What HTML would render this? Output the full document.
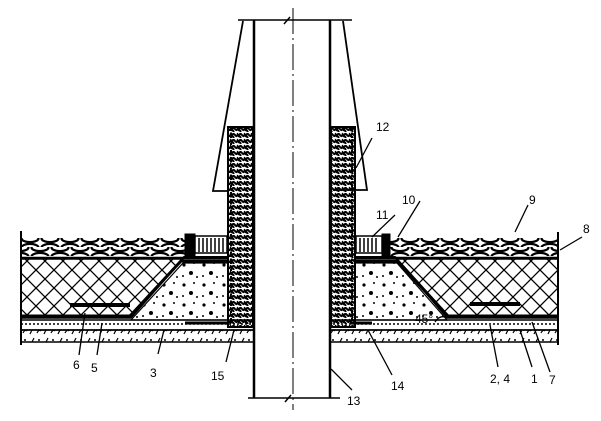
<!DOCTYPE html>
<html><head><meta charset="utf-8"><style>html,body{margin:0;padding:0;background:#fff}svg{display:block}</style></head>
<body>
<svg width="601" height="421" viewBox="0 0 601 421" xmlns="http://www.w3.org/2000/svg" font-family="Liberation Sans, sans-serif" font-size="12" fill="none" stroke="#000">
<defs>
<pattern id="x" width="18" height="18" patternUnits="userSpaceOnUse">
<path d="M0 0L18 18M18 0L0 18" stroke="#000" stroke-width="1.3"/>
</pattern>
<pattern id="g" width="20" height="9" patternUnits="userSpaceOnUse">
<ellipse cx="10" cy="4.5" rx="8.5" ry="3.6" stroke="#000" stroke-width="2.2" fill="#fff"/>
</pattern>
<pattern id="g2" width="20" height="9" patternUnits="userSpaceOnUse" x="10">
<ellipse cx="10" cy="4.5" rx="8.5" ry="3.6" stroke="#000" stroke-width="2.2" fill="#fff"/>
</pattern>
<pattern id="d" width="20" height="20" patternUnits="userSpaceOnUse">
<circle cx="4" cy="5" r="1.6" fill="#000" stroke="none"/><circle cx="14" cy="3" r="1" fill="#000" stroke="none"/><circle cx="11" cy="13" r="2" fill="#000" stroke="none"/><circle cx="3" cy="16" r="1" fill="#000" stroke="none"/><circle cx="17" cy="17" r="1" fill="#000" stroke="none"/>
</pattern>
<pattern id="w" width="7" height="6" patternUnits="userSpaceOnUse">
<path d="M0 5Q2 0 4 3T7 1M0 2L3 6" stroke="#000" stroke-width="2"/>
</pattern>
<pattern id="b" width="14" height="12" patternUnits="userSpaceOnUse">
<path d="M2 10L6 2M9 9q2-4 4-2" stroke="#000" stroke-width="1.2"/><circle cx="11" cy="4" r="1" fill="#000" stroke="none"/>
</pattern>
</defs>
<!-- base layers -->
<rect x="21" y="330" width="537" height="12" fill="url(#b)" stroke-width="1.5"/>
<rect x="21" y="320" width="537" height="10" fill="none" stroke-width="1.5"/>
<path d="M21 324H558" stroke-dasharray="2 2" stroke-width="1.5"/>
<rect x="255" y="315" width="74" height="32" fill="#fff" stroke="none"/>
<!-- insulation -->
<path d="M21 259H183L131 318H21Z M397 259H558V318H447Z" fill="url(#x)" stroke-width="1.5"/>
<!-- concrete fillets -->
<path d="M183 263H228V320H131Z" fill="url(#d)" stroke-width="1.2"/>
<path d="M397 263H355V320H447Z" fill="url(#d)" stroke-width="1.2"/>
<!-- membranes -->
<path d="M21 316H130L181 261H228" stroke-width="3"/>
<path d="M558 316H448L397 261H355" stroke-width="3"/>
<path d="M136 310L184 257H228M443 310L395 257H355" stroke-width="2"/>
<path d="M70 305H130M470 304H520" stroke-width="4"/>
<!-- gravel -->
<rect x="21" y="238" width="165" height="9" fill="url(#g)" stroke="none"/>
<rect x="21" y="247" width="165" height="9" fill="url(#g2)" stroke="none"/>
<rect x="388" y="238" width="170" height="9" fill="url(#g)" stroke="none"/>
<rect x="388" y="247" width="170" height="9" fill="url(#g2)" stroke="none"/>
<path d="M21 258H228M355 258H558" stroke-width="2.5"/>
<!-- clamps -->
<rect x="195" y="236" width="32" height="17" fill="#fff" stroke-width="1.5"/>
<path d="M199 238V252M203 238V252M207 238V252M211 238V252M215 238V252M219 238V252M223 238V252" stroke-width="1.5"/>
<rect x="185" y="234" width="10" height="22" fill="#000"/>
<rect x="356" y="236" width="26" height="17" fill="#fff" stroke-width="1.5"/>
<path d="M360 238V252M364 238V252M368 238V252M372 238V252M376 238V252" stroke-width="1.5"/>
<rect x="382" y="234" width="8" height="22" fill="#000"/>
<path d="M185 323H228M350 323H372" stroke-width="3"/>
<!-- sleeves -->
<rect x="228" y="127" width="25" height="200" fill="url(#w)" stroke-width="2"/>
<rect x="331" y="127" width="24" height="200" fill="url(#w)" stroke-width="2"/>
<path d="M231 129V325M352 129V325" stroke-width="2" stroke-dasharray="2 1.5"/>
<!-- boundaries -->
<path d="M21 231V345M558 232V345" stroke-width="2"/>
<!-- pipe -->
<path d="M254 20V398M330 20V398" stroke-width="2.5"/>
<path d="M238 20H352M248 398H340" stroke-width="1.5"/>
<path d="M290 17L284 24M291 395L285 402" stroke-width="1.5"/>
<path d="M293 8V410" stroke-width="1" stroke-dasharray="26 4 2 4"/>
<!-- cone -->
<path d="M243 21L213 191H227M343 21L367 190H333" stroke-width="1.8"/>
<!-- leaders -->
<g stroke-width="1.3">
<path d="M372 138L356 168M395 215L372 237M420 201L398 237M528 205L515 232M582 237L560 250M550 372L532 322M532 367L520 330M498 367L490 325M392 375L368 330M352 390L331 369M226 362L234 330M158 354L164 330M97 355L102 323M79 355L85 313"/>
<path d="M435 322Q440 314 447 318"/>
</g>
<g fill="#000" stroke="none">
<text x="376" y="131">12</text>
<text x="376" y="219">11</text>
<text x="402" y="204">10</text>
<text x="529" y="204">9</text>
<text x="583" y="233">8</text>
<text x="549" y="384">7</text>
<text x="531" y="383">1</text>
<text x="490" y="383">2, 4</text>
<text x="391" y="390">14</text>
<text x="347" y="405">13</text>
<text x="211" y="380">15</text>
<text x="150" y="377">3</text>
<text x="91" y="372">5</text>
<text x="73" y="369">6</text>
<text x="415" y="323">45°</text>
</g>
</svg>
</body></html>
